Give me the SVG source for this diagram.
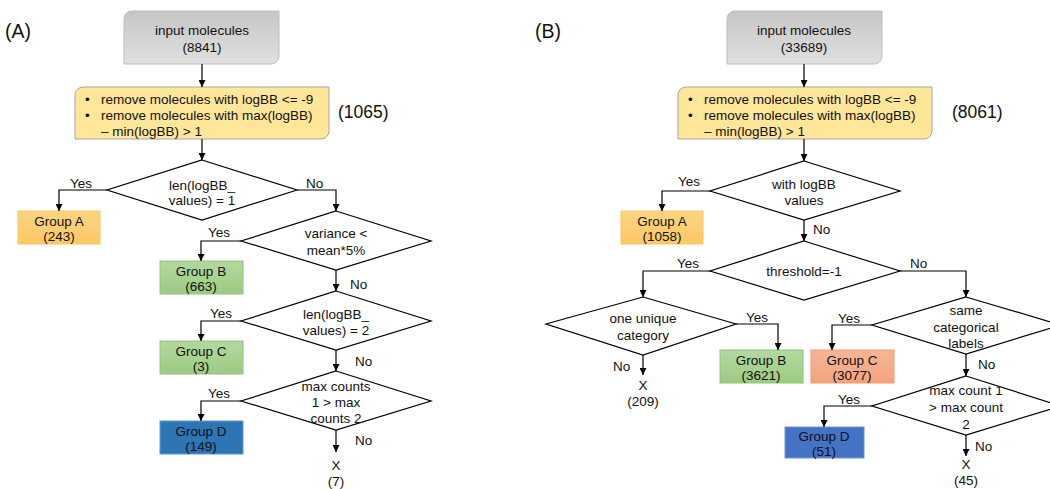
<svg xmlns="http://www.w3.org/2000/svg" width="1050" height="489" viewBox="0 0 1050 489">
<defs>
<linearGradient id="gGray" x1="0" y1="0" x2="0" y2="1"><stop offset="0" stop-color="#c6c6c6"/><stop offset="1" stop-color="#e0e0e0"/></linearGradient>
<linearGradient id="gOrange" x1="0" y1="0" x2="0" y2="1"><stop offset="0" stop-color="#fdd483"/><stop offset="1" stop-color="#fcc866"/></linearGradient>
<linearGradient id="gGreen" x1="0" y1="0" x2="0" y2="1"><stop offset="0" stop-color="#b4d8a0"/><stop offset="1" stop-color="#9ccb80"/></linearGradient>
<linearGradient id="gSalmon" x1="0" y1="0" x2="0" y2="1"><stop offset="0" stop-color="#f7b696"/><stop offset="1" stop-color="#f3a37c"/></linearGradient>
<marker id="arr" viewBox="0 0 10 10" refX="10" refY="5" markerWidth="7" markerHeight="7" markerUnits="userSpaceOnUse" orient="auto"><path d="M0,0 L10,5 L0,10 Z" fill="#000"/></marker>
<style>
text{font-family:"Liberation Sans",Arial,sans-serif;font-size:13.5px;fill:#111}
.c{text-anchor:middle}
.big{font-size:19.5px}
.num{font-size:17.5px}
.dia{fill:#fff;stroke:#000;stroke-width:1.2}
.inp{fill:url(#gGray);stroke:#bdbdbd;stroke-width:1}
.yel{fill:#ffe699;stroke:#a6a6a6;stroke-width:1}
.gA{fill:url(#gOrange);stroke:#f9c85c;stroke-width:1}
.gB{fill:url(#gGreen);stroke:#8fc47a;stroke-width:1}
.gC2{fill:url(#gSalmon);stroke:#f39a6a;stroke-width:1}
.gD1{fill:#2e75b6;stroke:#5b9bd5;stroke-width:1}
.gD2{fill:#4472c4;stroke:#6f95d8;stroke-width:1}
.con path{fill:none;stroke:#000;stroke-width:1.2;marker-end:url(#arr)}
</style>
</defs>
<rect width="1050" height="489" fill="#fff"/>

<text x="5" y="38" class="big">(A)</text>
<text x="535" y="38" class="big">(B)</text>

<!-- Panel A nodes -->
<g id="A_input"><path class="inp" d="M132,11 H279 V56 A8,8 0 0 1 271,64 H124 V19 A8,8 0 0 1 132,11 Z"/><text x="202" y="35" class="c">input molecules</text><text x="202" y="52" class="c">(8841)</text></g>
<g id="A_filter"><path class="yel" d="M83,87 H329 V131 A8,8 0 0 1 321,139 H75 V95 A8,8 0 0 1 83,87 Z"/><text x="85" y="104">•</text><text x="101" y="104">remove molecules with logBB &lt;= -9</text><text x="85" y="120">•</text><text x="101" y="120">remove molecules with max(logBB)</text><text x="101" y="136">– min(logBB) &gt; 1</text></g>
<text x="338" y="118" class="num">(1065)</text>
<g id="A_d1"><polygon class="dia" points="202,160 297,190 202,220 107,190"/><text x="202" y="190" class="c">len(logBB_</text><text x="202" y="205" class="c">values) = 1</text></g>
<g id="A_groupA"><rect class="gA" x="18" y="211" width="82" height="33"/><text x="59" y="226" class="c">Group A</text><text x="59" y="241" class="c">(243)</text></g>
<g id="A_d2"><polygon class="dia" points="336,211 431,241 336,270 241,241"/><text x="336" y="238" class="c">variance &lt;</text><text x="336" y="255" class="c">mean*5%</text></g>
<g id="A_groupB"><rect class="gB" x="160" y="261" width="83" height="33"/><text x="201" y="276" class="c">Group B</text><text x="201" y="291" class="c">(663)</text></g>
<g id="A_d3"><polygon class="dia" points="336,291 431,321 336,350 241,321"/><text x="336" y="319" class="c">len(logBB_</text><text x="336" y="335" class="c">values) = 2</text></g>
<g id="A_groupC"><rect class="gB" x="160" y="341" width="83" height="33"/><text x="201" y="356" class="c">Group C</text><text x="201" y="371" class="c">(3)</text></g>
<g id="A_d4"><polygon class="dia" points="336,371 431,401 336,430 241,401"/><text x="336" y="391" class="c">max counts</text><text x="336" y="407" class="c">1 &gt; max</text><text x="336" y="423" class="c">counts 2</text></g>
<g id="A_groupD"><rect class="gD1" x="160" y="421" width="83" height="33"/><text x="201" y="436" class="c">Group D</text><text x="201" y="451" class="c">(149)</text></g>
<g id="A_X"><text x="336" y="470" class="c">X</text><text x="336" y="486" class="c">(7)</text></g>

<!-- Panel B nodes -->
<g id="B_input"><path class="inp" d="M735,11 H882 V56 A8,8 0 0 1 874,64 H727 V19 A8,8 0 0 1 735,11 Z"/><text x="804" y="35" class="c">input molecules</text><text x="804" y="52" class="c">(33689)</text></g>
<g id="B_filter"><path class="yel" d="M686,87 H932 V131 A8,8 0 0 1 924,139 H678 V95 A8,8 0 0 1 686,87 Z"/><text x="688" y="104">•</text><text x="704" y="104">remove molecules with logBB &lt;= -9</text><text x="688" y="120">•</text><text x="704" y="120">remove molecules with max(logBB)</text><text x="704" y="136">– min(logBB) &gt; 1</text></g>
<text x="952" y="118" class="num">(8061)</text>
<g id="B_d1"><polygon class="dia" points="804,161 900,191 804,220 710,191"/><text x="804" y="189" class="c">with logBB</text><text x="804" y="205" class="c">values</text></g>
<g id="B_groupA"><rect class="gA" x="621" y="211" width="82" height="33"/><text x="662" y="226" class="c">Group A</text><text x="662" y="241" class="c">(1058)</text></g>
<g id="B_d2"><polygon class="dia" points="804,241 900,271 804,300 710,271"/><text x="804" y="276" class="c">threshold=-1</text></g>
<g id="B_d3"><polygon class="dia" points="643,297 736,324 643,355 546,324"/><text x="643" y="323" class="c">one unique</text><text x="643" y="340" class="c">category</text></g>
<g id="B_groupB"><rect class="gB" x="720" y="350" width="83" height="33"/><text x="761" y="365" class="c">Group B</text><text x="761" y="380" class="c">(3621)</text></g>
<g id="B_X1"><text x="643" y="390" class="c">X</text><text x="643" y="406" class="c">(209)</text></g>
<g id="B_d4"><polygon class="dia" points="966,297 1061,325 966,354 872,325"/><text x="966" y="315" class="c">same</text><text x="966" y="332" class="c">categorical</text><text x="966" y="348" class="c">labels</text></g>
<g id="B_groupC"><rect class="gC2" x="811" y="350" width="83" height="33"/><text x="852" y="365" class="c">Group C</text><text x="852" y="380" class="c">(3077)</text></g>
<g id="B_d5"><polygon class="dia" points="966,376 1061,406 966,435 872,406"/><text x="966" y="395" class="c">max count 1</text><text x="966" y="412" class="c">&gt; max count</text><text x="966" y="429" class="c">2</text></g>
<g id="B_groupD"><rect class="gD2" x="785" y="427" width="79" height="31"/><text x="824" y="441" class="c">Group D</text><text x="824" y="456" class="c">(51)</text></g>
<g id="B_X2"><text x="966" y="469" class="c">X</text><text x="966" y="485" class="c">(45)</text></g>

<!-- connectors -->
<g id="connectors" class="con">
<path d="M202,64 V87"/>
<path d="M202,139 V160"/>
<path d="M107,190 H59 V211"/>
<path d="M297,190 H336 V211"/>
<path d="M241,241 H201 V261"/>
<path d="M336,270 V291"/>
<path d="M241,321 H201 V341"/>
<path d="M336,350 V371"/>
<path d="M241,401 H201 V421"/>
<path d="M336,430 V452"/>
<path d="M804,64 V87"/>
<path d="M804,139 V161"/>
<path d="M710,191 H662 V211"/>
<path d="M804,220 V241"/>
<path d="M710,271 H643 V297"/>
<path d="M900,271 H966 V297"/>
<path d="M736,324 H778 V350"/>
<path d="M643,355 V375"/>
<path d="M872,325 H832 V350"/>
<path d="M966,354 V376"/>
<path d="M872,406 H824 V427"/>
<path d="M966,435 V456"/>
</g>

<!-- connector labels -->
<g id="labels">
<text x="70" y="188">Yes</text>
<text x="306" y="188">No</text>
<text x="208" y="237">Yes</text>
<text x="350" y="289">No</text>
<text x="210" y="318">Yes</text>
<text x="355" y="366">No</text>
<text x="208" y="398">Yes</text>
<text x="355" y="445">No</text>
<text x="678" y="186">Yes</text>
<text x="813" y="234">No</text>
<text x="677" y="268">Yes</text>
<text x="910" y="268">No</text>
<text x="746" y="322">Yes</text>
<text x="613" y="371">No</text>
<text x="838" y="323">Yes</text>
<text x="978" y="369">No</text>
<text x="838" y="404">Yes</text>
<text x="975" y="451">No</text>
</g>
</svg>
